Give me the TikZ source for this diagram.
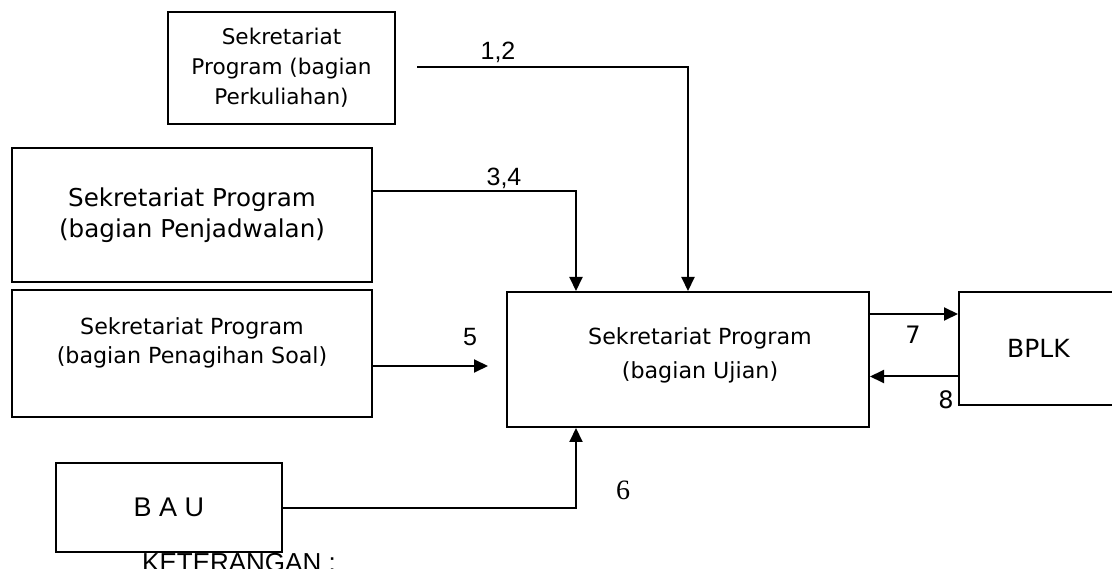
\documentclass[tikz,border=0pt]{standalone}
\usepackage{fontspec}
\setmainfont{DejaVu Sans}
\newfontfamily\arialfont{Liberation Sans}
\newfontfamily\timesfont{Liberation Serif}
\usetikzlibrary{arrows.meta,positioning}
\tikzset{
  unit/.style={draw,rectangle,line width=2pt,align=center,inner sep=0pt},
  flow/.style={-{Triangle[length=14pt,width=13pt]},line width=2pt},
  num/.style={font=\arialfont\fontsize{25}{28}\selectfont,inner sep=0pt},
  numb/.style={font=\fontsize{24}{27}\selectfont,inner sep=0pt}
}
\begin{document}
\begin{tikzpicture}[x=1pt,y=-1pt]
  \useasboundingbox (0,0) rectangle (1112,569);

  \node[unit,minimum width=227pt,minimum height=112pt,font=\fontsize{21.6}{30}\selectfont] (kuliah) at (281.5,68) {Sekretariat\\Program (bagian\\Perkuliahan)};
  \node[unit,minimum width=360pt,minimum height=134pt,font=\fontsize{24.6}{31}\selectfont] (jadwal) at (192,215) {Sekretariat Program\\(bagian Penjadwalan)};
  \node[unit,minimum width=360pt,minimum height=127pt,
        label={[align=center,font=\fontsize{22.2}{29}\selectfont,yshift=11pt]center:{Sekretariat Program\\(bagian Penagihan Soal)}}] (soal) at (192,353.5) {};
  \node[unit,minimum width=362pt,minimum height=135pt,
        label={[align=center,font=\fontsize{22.2}{34}\selectfont,xshift=12pt,yshift=4pt]center:{Sekretariat Program\\(bagian Ujian)}}] (ujian) at (688,359.5) {};
  \node[unit,minimum width=159pt,minimum height=113pt,font=\fontsize{25}{30}\selectfont] (bplk) at (1038.5,348.5) {BPLK};
  \node[unit,minimum width=226pt,minimum height=89pt,font=\arialfont\fontsize{27}{30}\selectfont] (bau) at (169,507.5) {B A U};

  % titik bantu
  \coordinate (k12) at (417,67);
  \coordinate (k34) at (576,191);
  \coordinate (k5) at (488,366);
  \coordinate (k7) at (0,314);
  \coordinate (k8) at (0,376.5);

  \draw[flow] (k12) -| (ujian.north);
  \draw[flow] (jadwal.east |- k34) -| (ujian.north -| k34);
  \draw[flow] (soal.east |- k5) -- (k5);
  \draw[flow] (bau.east) -| (ujian.south -| k34);
  \draw[flow] (ujian.east |- k7) -- (bplk.west |- k7);
  \draw[flow] (bplk.west |- k8) -- (ujian.east |- k8);

  \node[num] (n12) at (498,52) {1,2};
  \node[num] (n34) at (504,178) {3,4};
  \node[num] (n5) at (470,337) {5};
  \node[font=\timesfont\fontsize{28}{30}\selectfont,inner sep=0pt] (n6) at (623,490) {6};
  \node[numb] (n7) at (913,335) {7};
  \node[numb] (n8) at (946,400) {8};
  \node[font=\arialfont\fontsize{26}{30}\selectfont,anchor=base west,inner sep=0pt] (ket) at (142,571) {KETERANGAN :};
\end{tikzpicture}
\end{document}
